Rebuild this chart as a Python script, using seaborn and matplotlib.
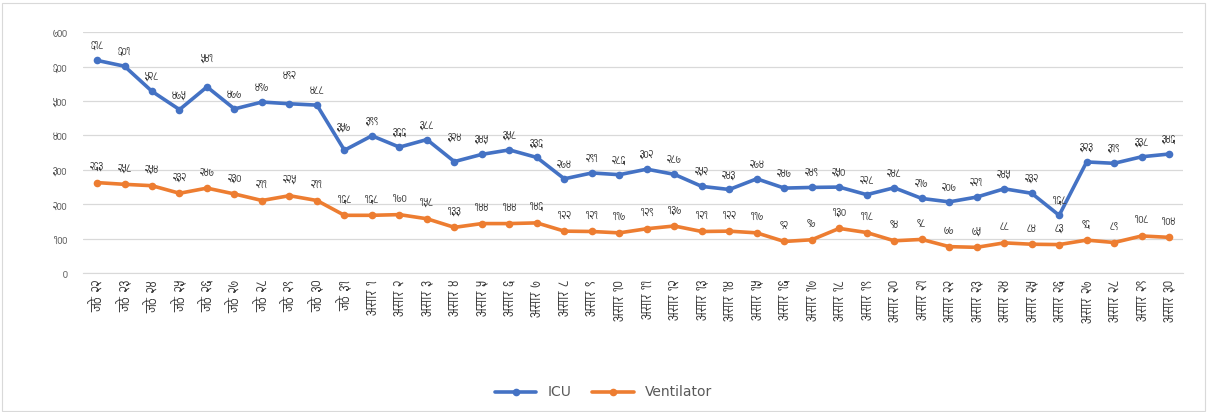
import pandas as pd
import matplotlib
matplotlib.use("Agg")
import matplotlib.pyplot as plt
import seaborn as sns
from matplotlib import font_manager
from matplotlib.ft2font import FT2Font

# दिन (x-axis)
jeth_days = ["२२", "२३", "२४", "२५", "२६", "२७", "२८", "२९", "३०", "३१"]
asar_days = ["१", "२", "३", "४", "५", "६", "७", "८", "९", "१०",
             "११", "१२", "१३", "१४", "१५", "१६", "१७", "१८", "१९", "२०",
             "२१", "२२", "२३", "२४", "२५", "२६", "२७", "२८", "२९", "३०"]
categories = ["जेठ " + d for d in jeth_days] + ["असार " + d for d in asar_days]

icu = [618, 601, 528, 475, 541, 477, 497, 492, 488, 357,
       399, 366, 388, 324, 345, 358, 336, 274, 291, 286,
       302, 287, 252, 243, 274, 247, 249, 250, 228, 248,
       217, 207, 221, 245, 232, 168, 323, 319, 338, 346]
ventilator = [263, 258, 254, 232, 247, 230, 211, 225, 211, 168,
              168, 170, 158, 133, 144, 144, 146, 122, 121, 117,
              129, 137, 121, 122, 117, 92, 97, 130, 118, 94,
              98, 77, 75, 88, 84, 83, 96, 89, 108, 104]

y_ticks = [0, 100, 200, 300, 400, 500, 600, 700]

DEV_DIGITS = str.maketrans("0123456789", "०१२३४५६७८९")


def nep(n):
    return str(n).translate(DEV_DIGITS)


def find_devanagari_font():
    found = []
    for f in font_manager.fontManager.ttflist:
        try:
            cmap = FT2Font(f.fname).get_charmap()
        except Exception:
            continue
        if 0x0905 in cmap and 0x0967 in cmap and 0x0920 in cmap:
            found.append(f.name)
    found.sort(key=lambda n: ("Mono" in n, "Serif" in n, n))
    return found[0] if found else None


sns.set_style("white")
dev_font = find_devanagari_font()
plt.rcParams["font.family"] = ["DejaVu Sans"] + ([dev_font] if dev_font else [])

df = pd.DataFrame({
    "pos": list(range(len(categories))) * 2,
    "value": icu + ventilator,
    "series": ["ICU"] * len(icu) + ["Ventilator"] * len(ventilator),
})

fig = plt.figure(figsize=(12.07, 4.12), dpi=100)
ax = fig.add_axes([0.069, 0.337, 0.911, 0.585])

colors = {"ICU": "#4472C4", "Ventilator": "#ED7D31"}
sns.lineplot(data=df, x="pos", y="value", hue="series", palette=colors,
             marker="o", markersize=5.5, markeredgewidth=0, linewidth=2.6,
             ax=ax, legend=True)

ax.set_xlim(-0.5, len(categories) - 0.5)
ax.set_ylim(0, 700)
ax.set_yticks(y_ticks)
ax.set_yticklabels([nep(v) for v in y_ticks], fontsize=9, color="#595959")
ax.set_xticks(range(len(categories)))
ax.set_xticklabels(categories, rotation=90, fontsize=11, color="#404040")
ax.tick_params(axis="x", length=0, pad=5)
ax.tick_params(axis="y", length=0, pad=11.5)
ax.yaxis.grid(True, color="#D9D9D9", linewidth=0.9)
for s in ["top", "right", "left"]:
    ax.spines[s].set_visible(False)
ax.spines["bottom"].set_color("#D9D9D9")
ax.set_xlabel("")
ax.set_ylabel("")

# data labels (a few moved like in the original chart)
icu_offsets = {4: (0, 16), 7: (0, 16), 9: (0, 12), 13: (0, 13)}
for i, v in enumerate(icu):
    dx, dy = icu_offsets.get(i, (0, 6))
    ax.annotate(nep(v), (i, v), xytext=(dx, dy), textcoords="offset points",
                ha="center", va="bottom", fontsize=9, color="#404040")
for i, v in enumerate(ventilator):
    ax.annotate(nep(v), (i, v), xytext=(0, 7), textcoords="offset points",
                ha="center", va="bottom", fontsize=9, color="#404040")

handles, labels = ax.get_legend_handles_labels()
ax.get_legend().remove()
fig.legend(handles, labels, loc="lower center", bbox_to_anchor=(0.5, 0.0),
           ncol=2, frameon=False, fontsize=10, handlelength=3,
           columnspacing=1.5, labelcolor="#595959")

fig.patches.append(plt.Rectangle((0.002, 0.003), 0.996, 0.99, transform=fig.transFigure,
                                 fill=False, edgecolor="#D9D9D9", linewidth=0.8))

fig.savefig("out.png", dpi=100, facecolor="white")
